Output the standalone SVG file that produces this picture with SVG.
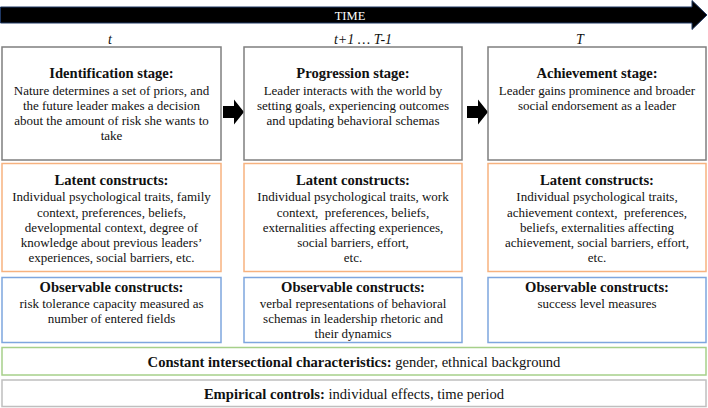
<svg xmlns="http://www.w3.org/2000/svg" width="708" height="408" viewBox="0 0 708 408">
<style>
text{font-family:"Liberation Serif","Times New Roman",serif;fill:#111;text-anchor:middle}
.t{font-size:14.6px;font-weight:bold}
.b{font-size:13px}
.lbl{font-size:14px;font-style:italic}
.stage{fill:#fff;stroke:#7f7f7f;stroke-width:1.5}
.lat{fill:#fff;stroke:#f7b27f;stroke-width:1.5}
.obs{fill:#fff;stroke:#7ea6de;stroke-width:1.5}
.con{fill:#fff;stroke:#a6d08a;stroke-width:1.5}
.emp{fill:#fff;stroke:#bfbfbf;stroke-width:1.5}
.blk{fill:#000}
</style>
<rect width="708" height="408" fill="#fff"/>
<g id="time">
<polygon points="0.5,7 692,7 692,0.5 707,15 692,29.5 692,23 0.5,23" fill="#000" stroke="#1f3864" stroke-width="1"/>
<text x="350" y="19.5" style="fill:#fff;font-size:12.5px">TIME</text>
<text class="lbl" x="110" y="44">t</text>
<text class="lbl" x="363" y="44">t+1 … T-1</text>
<text class="lbl" x="580" y="44">T</text>
</g>
<g id="connectors">
<polygon class="blk" points="223,106 234,106 234,99.5 244,112 234,124.5 234,118 223,118"/>
<polygon class="blk" points="467,106 478,106 478,99.5 488,112 478,124.5 478,118 467,118"/>
</g>
<g id="identification">
<rect class="stage" x="2" y="47" width="219" height="113"/>
<text class="t" x="111.5" y="78">Identification stage:</text>
<text class="b" x="111.5" y="94.5">Nature determines a set of priors, and</text>
<text class="b" x="111.5" y="109.5">the future leader makes a decision</text>
<text class="b" x="111.5" y="124.5">about the amount of risk she wants to</text>
<text class="b" x="111.5" y="140">take</text>
</g>
<g id="progression">
<rect class="stage" x="244" y="47" width="218" height="113"/>
<text class="t" x="353" y="78">Progression stage:</text>
<text class="b" x="353" y="94.5">Leader interacts with the world by</text>
<text class="b" x="353" y="109.5">setting goals, experiencing outcomes</text>
<text class="b" x="353" y="124.5">and updating behavioral schemas</text>
</g>
<g id="achievement">
<rect class="stage" x="488" y="47" width="218" height="113"/>
<text class="t" x="597" y="78">Achievement stage:</text>
<text class="b" x="597" y="94.5">Leader gains prominence and broader</text>
<text class="b" x="597" y="109.5">social endorsement as a leader</text>
</g>
<g id="latent1">
<rect class="lat" x="2" y="163.5" width="219" height="108"/>
<text class="t" x="111.5" y="185">Latent constructs:</text>
<text class="b" x="111.5" y="201.3">Individual psychological traits, family</text>
<text class="b" x="111.5" y="216.6">context, preferences, beliefs,</text>
<text class="b" x="111.5" y="231.8">developmental context, degree of</text>
<text class="b" x="111.5" y="247">knowledge about previous leaders’</text>
<text class="b" x="111.5" y="262.3">experiences, social barriers, etc.</text>
</g>
<g id="latent2">
<rect class="lat" x="244" y="163.5" width="218" height="108"/>
<text class="t" x="353" y="185">Latent constructs:</text>
<text class="b" x="353" y="201.3">Individual psychological traits, work</text>
<text class="b" x="353" y="216.6" xml:space="preserve">context,  preferences, beliefs,</text>
<text class="b" x="353" y="231.8">externalities affecting experiences,</text>
<text class="b" x="353" y="247">social barriers, effort,</text>
<text class="b" x="353" y="262.3">etc.</text>
</g>
<g id="latent3">
<rect class="lat" x="488" y="163.5" width="218" height="108"/>
<text class="t" x="597" y="185">Latent constructs:</text>
<text class="b" x="597" y="201.3">Individual psychological traits,</text>
<text class="b" x="597" y="216.6" xml:space="preserve">achievement context,  preferences,</text>
<text class="b" x="597" y="231.8">beliefs, externalities affecting</text>
<text class="b" x="597" y="247">achievement, social barriers, effort,</text>
<text class="b" x="597" y="262.3">etc.</text>
</g>
<g id="observable1">
<rect class="obs" x="2" y="277.5" width="219" height="65"/>
<text class="t" x="111.5" y="291.5">Observable constructs:</text>
<text class="b" x="111.5" y="307.5">risk tolerance capacity measured as</text>
<text class="b" x="111.5" y="322.5">number of entered fields</text>
</g>
<g id="observable2">
<rect class="obs" x="244" y="277.5" width="218" height="65"/>
<text class="t" x="353" y="291.5">Observable constructs:</text>
<text class="b" x="353" y="307.5">verbal representations of behavioral</text>
<text class="b" x="353" y="322.5">schemas in leadership rhetoric and</text>
<text class="b" x="353" y="338">their dynamics</text>
</g>
<g id="observable3">
<rect class="obs" x="488" y="277.5" width="218" height="65"/>
<text class="t" x="597" y="291.5">Observable constructs:</text>
<text class="b" x="597" y="307.5">success level measures</text>
</g>
<g id="constant">
<rect class="con" x="2" y="347.5" width="704" height="27.5"/>
<text x="354" y="367" style="font-size:14.6px"><tspan font-weight="bold">Constant intersectional characteristics:</tspan> gender, ethnical background</text>
</g>
<g id="empirical">
<rect class="emp" x="2" y="380" width="704" height="26.5"/>
<text x="354" y="398.5" style="font-size:14.6px"><tspan font-weight="bold">Empirical controls:</tspan> individual effects, time period</text>
</g>
</svg>
